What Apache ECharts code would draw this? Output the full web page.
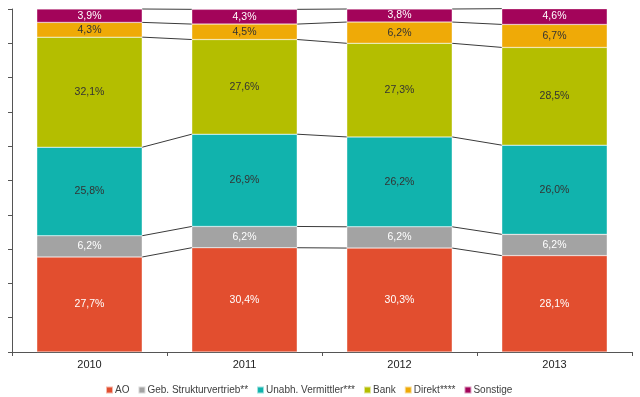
<!DOCTYPE html>
<html>
<head>
<meta charset="utf-8">
<script src="https://cdn.jsdelivr.net/npm/echarts@6/dist/echarts.min.js"></script>
<style>
html,body{margin:0;padding:0;background:#fff;}
#chart{width:640px;height:397px;}
</style>
</head>
<body>
<div id="chart"></div>
<script>
var years = ['2010','2011','2012','2013'];
var seriesNames = ['AO','Geb. Strukturvertrieb**','Unabh. Vermittler***','Bank','Direkt****','Sonstige'];
var ao = [27.7,30.4,30.3,28.1];
var geb = [6.2,6.2,6.2,6.2];
var vermittler = [25.8,26.9,26.2,26.0];
var bank = [32.1,27.6,27.3,28.5];
var direkt = [4.3,4.5,6.2,6.7];
var sonstige = [3.9,4.3,3.8,4.6];

var COLORS = ['#E24E2F','#A3A3A3','#11B3AD','#B4BE00','#EFAA07','#A3045A'];
var LABEL_COLORS = ['#ffffff','#ffffff','#333333','#333333','#333333','#ffffff'];
var BAR_RATIO = 0.68;

var allData = [ao,geb,vermittler,bank,direkt,sonstige];

function fmt(v){
	return v.toFixed(1).replace('.',',')+'%';
}

// Grenzen zwischen den Segmenten (kumuliert)
var boundaries = [];
for(var s = 0; s < allData.length; s++){
	for(var i = 0; i < years.length; i++){
		var sum = 0;
		for(var k = 0; k <= s; k++) sum += allData[k][i];
		if(!boundaries[s]) boundaries[s] = [];
		boundaries[s][i] = sum;
	}
}
var lineData = [];
for(var s = 0; s < boundaries.length; s++){
	for(var i = 0; i < years.length-1; i++){
		lineData.push([i, boundaries[s][i], boundaries[s][i+1]]);
	}
}

var series = allData.map(function(d,idx){
	return {
		name: seriesNames[idx],
		type: 'bar',
		stack: 'total',
		barWidth: (BAR_RATIO*100)+'%',
		itemStyle: {color: COLORS[idx], borderColor:'rgba(255,255,255,0.6)', borderWidth:0.5},
		label: {
			show: true,
			position: 'inside',
			color: LABEL_COLORS[idx],
			fontSize: 10.5,
			fontFamily: 'Liberation Sans',
			formatter: function(p){ return fmt(p.value); }
		},
		data: d
	};
});

series.push({
	type: 'custom',
	silent: true,
	z: 1,
	renderItem: function(params, api){
		var p1 = api.coord([api.value(0), api.value(1)]);
		var p2 = api.coord([api.value(0)+1, api.value(2)]);
		var band = api.size([1,0])[0];
		var hw = band*BAR_RATIO/2;
		return {
			type: 'line',
			shape: {x1: p1[0]+hw, y1: p1[1], x2: p2[0]-hw, y2: p2[1]},
			style: {stroke: '#3a3a3a', lineWidth: 1}
		};
	},
	encode: {x: 0, y: 1},
	data: lineData
});

var myChart = echarts.init(document.getElementById('chart'));
myChart.setOption({
	animation: false,
	grid: {left: 12, right: 8, top: 9, bottom: 45},
	legend: {
		top: 385,
		left: 105,
		padding: 0,
		itemWidth: 7,
		itemHeight: 7,
		itemGap: 8,
		icon: 'rect',
		textStyle: {fontSize: 10, color: '#404040', fontFamily: 'Liberation Sans', padding:[0,0,0,-3]},
		data: seriesNames
	},
	xAxis: {
		type: 'category',
		data: years,
		axisLine: {lineStyle: {color: '#555'}},
		axisTick: {show: true, length: 4, lineStyle: {color: '#555'}},
		axisLabel: {color: '#222', fontSize: 11, fontFamily: 'Liberation Sans', margin: 7}
	},
	yAxis: {
		type: 'value',
		min: 0,
		max: 100,
		interval: 10,
		axisLine: {show: true, lineStyle: {color: '#555'}},
		axisTick: {show: true, length: 4, lineStyle: {color: '#555'}},
		axisLabel: {show: false},
		splitLine: {show: false}
	},
	series: series
});
</script>
</body>
</html>
